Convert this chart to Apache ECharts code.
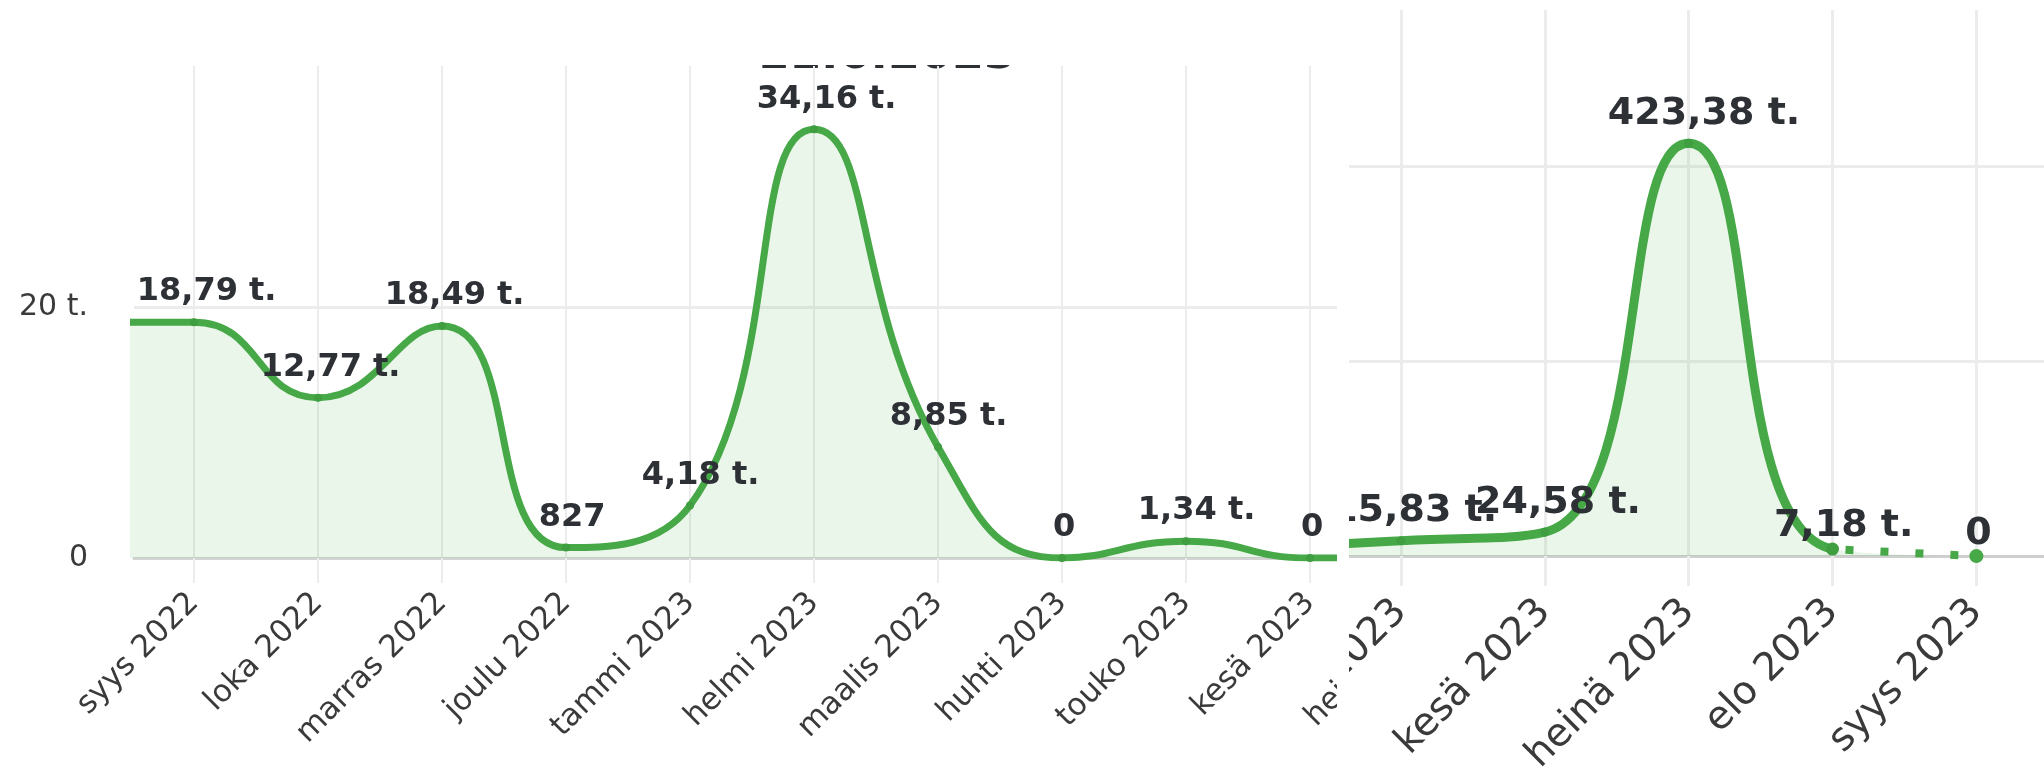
<!DOCTYPE html>
<html><head><meta charset="utf-8">
<script src="https://cdn.jsdelivr.net/npm/echarts@6/dist/echarts.min.js"></script>
<style>
html,body{margin:0;padding:0;background:#fff;width:2044px;height:778px;overflow:hidden;position:relative}
#leftClip{position:absolute;left:0;top:65px;width:1337px;height:713px;overflow:hidden;z-index:1}
#leftChart{position:absolute;left:0;top:-65px;width:1700px;height:778px}
#rightPanel{position:absolute;left:1337px;top:0;width:707px;height:778px;background:#fff;z-index:2}
#rightClip{position:absolute;left:12px;top:0;width:695px;height:778px;overflow:hidden}
#rightChart{position:absolute;left:-300px;top:0;width:995px;height:778px}
</style></head><body>
<div id="leftClip"><div id="leftChart"></div></div>
<div id="rightPanel"><div id="rightClip"><div id="rightChart"></div></div></div>
<script>
// ---- data (kg) ----
// first entry of each list is the off-screen lead-in month (estimated)
const leftMonths = ['elo 2022','syys 2022','loka 2022','marras 2022','joulu 2022','tammi 2023','helmi 2023','maalis 2023','huhti 2023','touko 2023','kesä 2023','heinä 2023'];
const leftKg     = [18790, 18790, 12770, 18490, 827, 4180, 34160, 8850, 0, 1340, 0, 0];
const leftYTicks = [0, 20000];
const leftTitle  = '11.6.2023';

const rightMonths = ['huhti 2023','touko 2023','kesä 2023','heinä 2023','elo 2023','syys 2023'];
const rightKg     = [8000, 15830, 24580, 423380, 7180, 0];
const rightYTicks = [0, 200000, 400000];

// ---- helpers ----
const GREEN = '#46a846';
const AREA = 'rgba(76,175,80,0.17)';
const LABEL_COLOR = '#2d3035';
const AXIS_COLOR = '#3a3a3a';
const GRID_COLOR = '#ececec';
const ctx = document.createElement('canvas').getContext('2d');
function textW(t, font) { ctx.font = font; return ctx.measureText(t).width; }
function fmtKg(v) {
  if (v >= 1000) return (v / 1000).toFixed(2).replace('.', ',') + ' t.';
  return String(v);
}
function fmtAxis(v) { return v === 0 ? '0' : (v / 1000) + ' t.'; }
function range(a, b) { const r = []; for (let i = a; i <= b; i++) r.push(i); return r; }

// ---- left chart ----
const LFS = 32;
const LFONT = 'bold ' + LFS + 'px "DejaVu Sans"';
const leftData = leftKg.map((v, i) => ({
  value: [i, v],
  label: i === 0 ? { show: false } : { offset: [0.09 * textW(fmtKg(v), LFONT), 0] }
}));
const leftIdx = range(1, leftMonths.length - 1);
const lmax = leftYTicks[1] * 1.96;

const left = echarts.init(document.getElementById('leftChart'), null, { renderer: 'canvas' });
left.setOption({
  animation: false,
  grid: { left: 134, right: 0, top: 66, bottom: 220 },
  xAxis: {
    type: 'value', min: 0.516, max: 13.145,
    axisLine: { show: true, lineStyle: { color: '#d3d3d3', width: 3 } },
    axisTick: { show: true, customValues: leftIdx, length: 25, lineStyle: { color: GRID_COLOR, width: 2 } },
    splitLine: { show: true, lineStyle: { color: GRID_COLOR, width: 2 } },
    axisLabel: {
      customValues: leftIdx, rotate: 45, margin: 40,
      fontFamily: 'DejaVu Sans', fontSize: 31, color: AXIS_COLOR,
      formatter: v => leftMonths[v] || ''
    }
  },
  yAxis: {
    type: 'value', min: 0, max: lmax, interval: leftYTicks[1],
    axisLine: { show: false }, axisTick: { show: false },
    splitLine: { show: true, lineStyle: { color: [GRID_COLOR, GRID_COLOR, 'rgba(0,0,0,0)'], width: 3 } },
    axisLabel: { margin: 46, fontFamily: 'DejaVu Sans', fontSize: 30, color: AXIS_COLOR, showMaxLabel: false, formatter: fmtAxis }
  },
  graphic: [{
    type: 'text', x: 757, y: 33,
    style: { text: leftTitle, font: 'bold 46px "DejaVu Sans"', fill: LABEL_COLOR, verticalAlign: 'top' }
  }],
  series: [{
    type: 'line', data: leftData, smooth: true,
    symbol: 'circle', symbolSize: 8,
    itemStyle: { color: '#3f9e3f' },
    lineStyle: { color: GREEN, width: 7 },
    areaStyle: { color: AREA },
    label: {
      show: true, position: 'top', distance: 10,
      fontFamily: 'DejaVu Sans', fontWeight: 'bold', fontSize: LFS, lineHeight: LFS, color: LABEL_COLOR,
      formatter: p => fmtKg(p.value[1])
    }
  }]
});

// ---- right chart ----
const RFS = 38;
const RFONT = 'bold ' + RFS + 'px "DejaVu Sans"';
const lastIdx = rightKg.length - 1;
const lastActual = lastIdx - 1;
const rightSolid = rightKg.map((v, i) => ({
  value: [i, v],
  label: (i === 0 || i === lastIdx) ? { show: false }
    : { offset: [0.08 * textW(fmtKg(v), RFONT), 0], distance: i === lastActual ? -3 : 6 },
  symbolSize: i === lastActual ? 13 : (i === lastIdx ? 0 : 9)
}));
const rightDotted = [lastActual, lastIdx].map((i, k) => ({
  value: [i, rightKg[i]],
  label: k === 0 ? { show: false } : { offset: [0.08 * textW(fmtKg(rightKg[i]), RFONT), 0], distance: -4 },
  symbolSize: k === 0 ? 0 : 14
}));
const rightIdx = range(1, rightMonths.length - 1);
const rmax = rightYTicks[2] * 1.4;
// the solid stroke stops at the last actual month; the final segment is drawn dotted
const cut = lastActual / lastIdx;
const solidStroke = new echarts.graphic.LinearGradient(0, 0, 1, 0, [
  { offset: 0, color: GREEN }, { offset: cut, color: GREEN },
  { offset: cut, color: 'rgba(70,168,70,0)' }, { offset: 1, color: 'rgba(70,168,70,0)' }
]);

const right = echarts.init(document.getElementById('rightChart'), null, { renderer: 'canvas' });
const rLabel = {
  show: true, position: 'top', distance: 6,
  fontFamily: 'DejaVu Sans', fontWeight: 'bold', fontSize: RFS, lineHeight: RFS, color: LABEL_COLOR,
  formatter: p => fmtKg(p.value[1])
};
right.setOption({
  animation: false,
  grid: { left: 208, right: 0, top: 10, bottom: 208 },
  xAxis: {
    type: 'value', min: 0, max: 5.47,
    axisLine: { show: true, lineStyle: { color: '#cfcfcf', width: 3 } },
    axisTick: { show: true, customValues: rightIdx, length: 30, lineStyle: { color: GRID_COLOR, width: 3 } },
    splitLine: { show: true, lineStyle: { color: GRID_COLOR, width: 3 } },
    axisLabel: {
      customValues: rightIdx, rotate: 45, margin: 50,
      fontFamily: 'DejaVu Sans', fontSize: 39, color: AXIS_COLOR,
      formatter: v => rightMonths[v] || ''
    }
  },
  yAxis: {
    type: 'value', min: 0, max: rmax, interval: rightYTicks[1],
    axisLine: { show: false }, axisTick: { show: false },
    splitLine: { show: true, lineStyle: { color: [GRID_COLOR, GRID_COLOR, GRID_COLOR, 'rgba(0,0,0,0)'], width: 3 } },
    axisLabel: { show: true, fontSize: 30, color: AXIS_COLOR, showMaxLabel: false, formatter: fmtAxis }
  },
  series: [{
    type: 'line', data: rightSolid, smooth: true,
    symbol: 'circle',
    itemStyle: { color: '#3f9e3f' },
    lineStyle: { color: solidStroke, width: 9 },
    areaStyle: { color: AREA },
    label: rLabel
  }, {
    type: 'line', data: rightDotted, smooth: false,
    symbol: 'circle',
    itemStyle: { color: GREEN },
    lineStyle: { color: GREEN, width: 8, type: [8, 27], dashOffset: 22, cap: 'butt' },
    label: rLabel
  }]
});
</script>
</body></html>
